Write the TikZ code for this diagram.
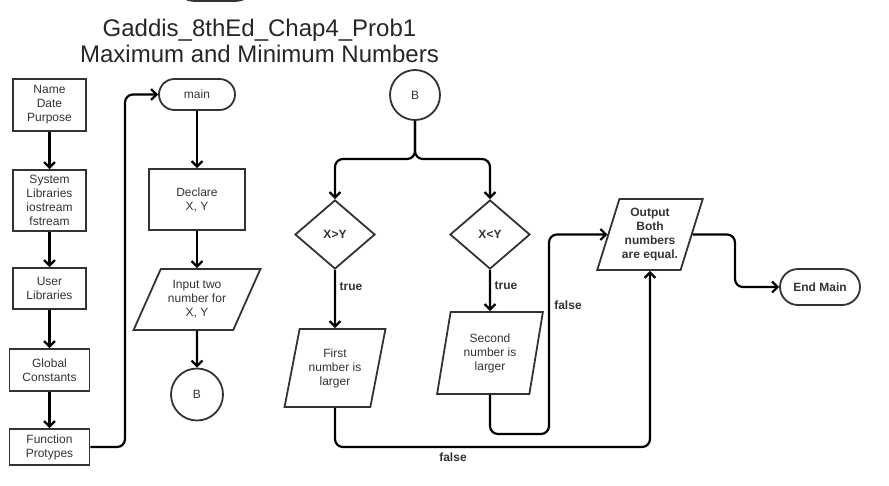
\documentclass[tikz,border=0pt]{standalone}
\usepackage{fontspec}
\setmainfont{Liberation Sans}
\usetikzlibrary{shapes.geometric,arrows.meta}
\newlength{\du}
\setlength{\du}{1pt}
\definecolor{dialinecolor}{rgb}{0.200000, 0.200000, 0.200000}
\definecolor{flowcolor}{rgb}{0.000000, 0.000000, 0.000000}
\tikzset{
  procbox/.style={draw=dialinecolor, line width=1.8\du, rectangle, align=center,
    text=dialinecolor, inner sep=0pt, font=\fontsize{12}{14}\selectfont},
  termbox/.style={procbox, rounded corners=#1},
  iobox/.style={procbox, trapezium, trapezium left angle=#1, trapezium right angle=180-#1,
    trapezium stretches=true},
  decbox/.style={procbox, diamond, font=\bfseries\fontsize{12}{14}\selectfont},
  connbox/.style={procbox, circle},
  flow/.style={draw=flowcolor, line width=2.2\du, rounded corners=8\du,
    -{Straight Barb[length=5.5pt,width=11pt]}},
  lbl/.style={font=\bfseries\fontsize{12}{14}\selectfont, text=dialinecolor}
}

\begin{document}
\begin{tikzpicture}
\pgftransformxscale{1.000000}
\pgftransformyscale{-1.000000}
\useasboundingbox (0\du,0\du) rectangle (889\du,485\du);
% title
\node[anchor=base, font=\fontsize{24}{25}\selectfont, text=black!85] (title1) at (259.5\du,36.7\du){Gaddis\_8thEd\_Chap4\_Prob1};
\node[anchor=base, font=\fontsize{24}{25}\selectfont, text=black!85] (title2) at (259.5\du,62.000000\du){Maximum and Minimum Numbers};
% cut shape at the top edge
\draw[draw=dialinecolor, line width=1.8\du] (182\du,-4\du) .. controls (186\du,0\du) and (190\du,1\du) .. (196\du,1\du) -- (234\du,1\du) .. controls (240\du,1\du) and (244\du,0\du) .. (248\du,-4\du);
% left column
\node[procbox, minimum width=73\du, minimum height=52\du] (name) at (49.5\du,105.000000\du){Name\\Date\\Purpose};
\node[procbox, minimum width=73\du, minimum height=61\du] (syslib) at (49.5\du,200.5\du){System\\Libraries\\iostream\\fstream};
\node[procbox, minimum width=73\du, minimum height=41\du] (userlib) at (49.5\du,288.5\du){User\\Libraries};
\node[procbox, minimum width=80\du, minimum height=42\du] (globconst) at (49.5\du,370.000000\du){Global\\Constants};
\node[procbox, minimum width=80\du, minimum height=36\du] (funcproto) at (49.5\du,447.000000\du){Function\\Protypes};
% main column
\node[termbox=15.5\du, minimum width=76\du, minimum height=31\du] (main) at (197.000000\du,94.5\du){main};
\node[procbox, minimum width=96\du, minimum height=61\du] (declare) at (197.000000\du,199.5\du){Declare\\X, Y};
\node[iobox=60, minimum width=127\du, minimum height=61\du] (input) at (197.000000\du,299.5\du){Input two\\number for\\X, Y};
\node[connbox, minimum size=52\du] (bout) at (197.000000\du,394.5\du){B};
% compare part
\node[connbox, minimum size=50\du] (bin) at (415.000000\du,95.000000\du){B};
\coordinate (split) at (415.000000\du,159.000000\du);
\node[decbox, minimum width=80\du, minimum height=69\du] (xgty) at (335.000000\du,234.5\du){X>Y};
\node[decbox, minimum width=80\du, minimum height=69\du] (xlty) at (490.000000\du,234.5\du){X<Y};
\node[iobox=74, minimum width=101\du, minimum height=78\du] (first) at (335.000000\du,368.000000\du){First\\number is\\larger};
\node[iobox=77, minimum width=106\du, minimum height=82\du] (second) at (490.000000\du,353.000000\du){Second\\number is\\larger};
\node[iobox=69, minimum width=106\du, minimum height=71\du, font=\bfseries\fontsize{12}{14}\selectfont] (equal) at (650.000000\du,234.5\du){Output\\Both\\numbers\\are equal.};
\node[termbox=18\du, minimum width=80\du, minimum height=36\du, font=\bfseries\fontsize{12}{14}\selectfont] (endmain) at (820.000000\du,287.000000\du){End Main};
\coordinate (up) at (125.000000\du,94.5\du);
\coordinate (firstdown) at (650.000000\du,447.000000\du);
\coordinate (seconddown) at (549.000000\du,434.000000\du);
\coordinate (outright) at (735.000000\du,260.000000\du);
% labels
\node[lbl] (true1) at (351.000000\du,287.000000\du){true};
\node[lbl] (true2) at (506.000000\du,286.000000\du){true};
\node[lbl] (false1) at (453.000000\du,457.000000\du){false};
\node[lbl] (false2) at (568.000000\du,305.000000\du){false};
% connectors
\draw[flow] (name) -- (syslib);
\draw[flow] (syslib) -- (userlib);
\draw[flow] (userlib) -- (globconst);
\draw[flow] (globconst) -- (funcproto);
\draw[flow] (funcproto.east) -| (up) -- (main.west);
\draw[flow] (main) -- (declare);
\draw[flow] (declare) -- (input);
\draw[flow] (input) -- (bout);
\draw[flow] (bin.south) -- (split) -| (xgty.north);
\draw[flow] (bin.south) -- (split) -| (xlty.north);
\draw[flow] (xgty) -- (first);
\draw[flow] (xlty) -- (second);
\draw[flow] (first.south) |- (firstdown) -- (equal.south);
\draw[flow] (second.south) |- (seconddown) |- (equal.west);
\draw[flow] (equal.east) -| (outright) |- (endmain.west);
\end{tikzpicture}
\end{document}
